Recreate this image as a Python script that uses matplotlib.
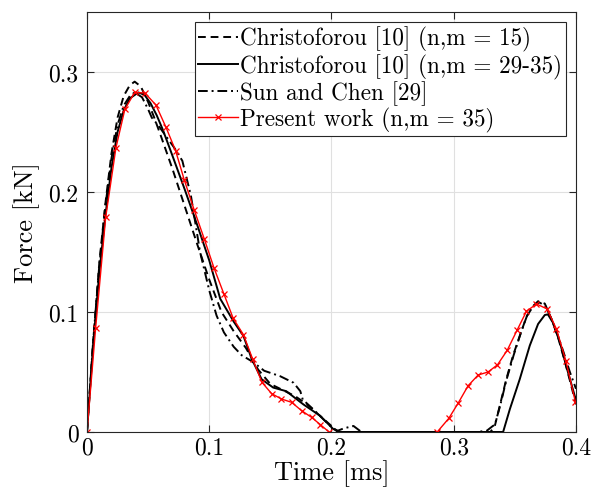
import numpy as np
import matplotlib.pyplot as plt

plt.rcParams['font.family'] = ['cmr10', 'DejaVu Serif']
plt.rcParams['mathtext.fontset'] = 'cm'
plt.rcParams['axes.formatter.use_mathtext'] = True

# --- Data ---

# Christoforou [10] (n,m = 15) - dashed
t_c15 = [0, 0.005, 0.01, 0.015, 0.02, 0.025, 0.03, 0.035, 0.039, 0.044, 0.05,
         0.055, 0.06, 0.07, 0.08, 0.09, 0.1, 0.11, 0.12, 0.13, 0.14, 0.15,
         0.16, 0.17, 0.18, 0.19, 0.2, 0.205,
         0.33, 0.3336, 0.3377, 0.343, 0.3486, 0.354, 0.3595, 0.365, 0.369,
         0.3745, 0.38, 0.385, 0.39, 0.395, 0.4]
f_c15 = [0, 0.075, 0.14, 0.19, 0.232, 0.262, 0.28, 0.289, 0.292, 0.288, 0.275,
         0.262, 0.248, 0.219, 0.188, 0.157, 0.127, 0.1, 0.084, 0.07, 0.052, 0.04,
         0.035, 0.03, 0.023, 0.014, 0.005, 0,
         0, 0.005, 0.022, 0.044, 0.064, 0.08, 0.096, 0.105, 0.109,
         0.107, 0.094, 0.08, 0.062, 0.043, 0.023]

# Christoforou [10] (n,m = 29-35) - solid
t_c29 = [0, 0.005, 0.01, 0.015, 0.02, 0.025, 0.03, 0.035, 0.042, 0.047, 0.052,
         0.057, 0.062, 0.07, 0.08, 0.09, 0.1, 0.109, 0.12, 0.128, 0.1347,
         0.1428, 0.1523, 0.163, 0.177, 0.1905, 0.2014, 0.207,
         0.3404, 0.3459, 0.354, 0.3622, 0.369, 0.3745, 0.377, 0.381, 0.3868,
         0.392, 0.399, 0.4]
f_c29 = [0, 0.072, 0.132, 0.18, 0.22, 0.25, 0.268, 0.278, 0.283, 0.281, 0.274,
         0.264, 0.252, 0.23, 0.202, 0.173, 0.143, 0.111, 0.092, 0.08, 0.061,
         0.044, 0.037, 0.034, 0.023, 0.0136, 0.0025, 0,
         0, 0.019, 0.044, 0.072, 0.09, 0.0975, 0.098, 0.0914, 0.0748,
         0.055, 0.03, 0.027]

# Sun and Chen [29] - dash-dot
t_sc = [0, 0.005, 0.01, 0.015, 0.02, 0.025, 0.03, 0.035, 0.039, 0.045, 0.05,
        0.053, 0.058, 0.065, 0.072, 0.078, 0.085, 0.0925, 0.1, 0.106, 0.112,
        0.12, 0.1265, 0.1347, 0.14, 0.145, 0.158, 0.169, 0.1745, 0.1765,
        0.185, 0.195, 0.2, 0.205, 0.21, 0.218, 0.2245,
        0.3186, 0.327, 0.332, 0.3336, 0.338, 0.343, 0.349, 0.355, 0.36,
        0.365, 0.37, 0.375, 0.38, 0.385, 0.39, 0.395, 0.4]
f_sc = [0, 0.075, 0.138, 0.188, 0.228, 0.256, 0.272, 0.28, 0.283, 0.279, 0.269,
        0.262, 0.256, 0.246, 0.236, 0.226, 0.197, 0.15, 0.118, 0.097, 0.083,
        0.071, 0.064, 0.059, 0.055, 0.051, 0.0465, 0.041, 0.034, 0.027,
        0.019, 0.009, 0.004, 0.001, 0.003, 0.005, 0,
        0, 0.001, 0.005, 0.006, 0.022, 0.043, 0.064, 0.083, 0.097,
        0.105, 0.108, 0.105, 0.094, 0.081, 0.066, 0.05, 0.036]

# Present work (n,m = 35) - red with markers, two separate segments
t_pw1 = [0, 0.0071, 0.0153, 0.0237, 0.031, 0.039, 0.0474, 0.0564, 0.0646,
         0.0725, 0.0796, 0.0877, 0.0959, 0.1038, 0.112, 0.1196, 0.128, 0.1355,
         0.1431, 0.151, 0.159, 0.1674, 0.1755, 0.1837, 0.191, 0.198]
f_pw1 = [0, 0.087, 0.179, 0.237, 0.269, 0.283, 0.2825, 0.2725, 0.254,
         0.2344, 0.21, 0.185, 0.161, 0.137, 0.115, 0.0947, 0.081, 0.0608,
         0.0414, 0.032, 0.0275, 0.0247, 0.0178, 0.0122, 0.006, 0]
t_pw2 = [0.2865, 0.296, 0.3036, 0.3118, 0.32, 0.3281, 0.3358, 0.3437, 0.3519,
         0.3595, 0.3677, 0.3764, 0.384, 0.3917, 0.3996]
f_pw2 = [0.0, 0.0114, 0.024, 0.0386, 0.0475, 0.05, 0.056, 0.068, 0.085,
         0.1006, 0.1067, 0.1025, 0.0858, 0.0594, 0.0247]

xticks = [0, 0.1, 0.2, 0.3, 0.4]
xticklabels = ['0', '0.1', '0.2', '0.3', '0.4']
yticks = [0, 0.1, 0.2, 0.3]
yticklabels = ['0', '0.1', '0.2', '0.3']

# --- Plotting ---
fig = plt.figure(figsize=(5.93, 5.02), dpi=100)
ax = fig.add_axes([0.1467, 0.1375, 0.8246, 0.8365])

ax.plot(t_c15, f_c15, color='k', linestyle=(0, (4, 2.5)), linewidth=1.4,
        label='Christoforou [10] (n,m = 15)')
ax.plot(t_c29, f_c29, color='k', linestyle='-', linewidth=1.4,
        label='Christoforou [10] (n,m = 29-35)')
ax.plot(t_sc, f_sc, color='k', linestyle=(0, (5, 2, 1, 2)), linewidth=1.4,
        label='Sun and Chen [29]')
ax.plot(t_pw1, f_pw1, color='red', linewidth=1.0, marker='x',
        markersize=4.5, markeredgewidth=0.9, label='Present work (n,m = 35)')
ax.plot(t_pw2, f_pw2, color='red', linewidth=1.0, marker='x',
        markersize=4.5, markeredgewidth=0.9)

ax.set_xlim(0, 0.4)
ax.set_ylim(0, 0.35)
ax.set_xticks(xticks)
ax.set_xticklabels(xticklabels)
ax.set_yticks(yticks)
ax.set_yticklabels(yticklabels)
ax.tick_params(direction='in', top=True, right=True, labelsize=17,
               length=5, color='0.15')
ax.tick_params(axis='x', pad=3)
ax.tick_params(axis='y', pad=6)
for sp in ax.spines.values():
    sp.set_color('0.15')
    sp.set_linewidth(0.8)
ax.grid(True, color='0.88', linewidth=0.8)
ax.set_axisbelow(True)

ax.set_xlabel('Time [ms]', fontsize=19, labelpad=1)
ax.set_ylabel('Force [kN]', fontsize=19, labelpad=6)

leg = ax.legend(loc='upper right', fontsize=16.7, handlelength=1.7,
                handletextpad=0.1, borderpad=0.15, labelspacing=0.08,
                borderaxespad=0.45, fancybox=False, framealpha=1)
leg.get_frame().set_edgecolor('0.15')
leg.get_frame().set_linewidth(0.8)

plt.savefig('out.png', dpi=100)
